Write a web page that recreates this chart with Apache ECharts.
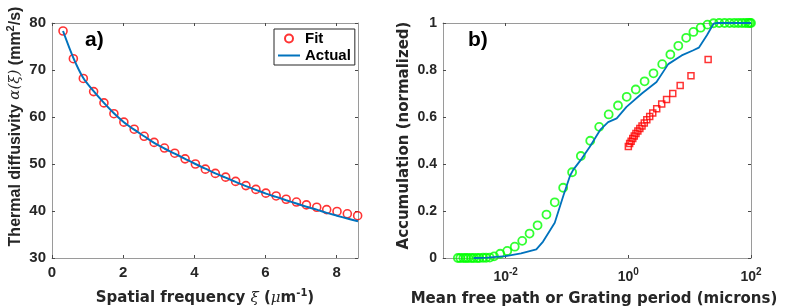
<!DOCTYPE html>
<html><head><meta charset="utf-8">
<script src="https://cdn.jsdelivr.net/npm/echarts@6/dist/echarts.min.js"></script>
<style>html,body{margin:0;padding:0;background:#fff}#c{width:789px;height:308px}</style>
</head><body><div id="c"></div>
<script>
// ---- Panel a) data ----
const fitX = [0.31,0.60,0.88,1.17,1.46,1.74,2.02,2.31,2.59,2.87,3.16,3.45,3.74,4.03,4.31,4.59,4.88,5.16,5.45,5.73,6.01,6.30,6.58,6.87,7.15,7.44,7.72,8.01,8.30,8.59];
const fitY = [78.3,72.4,68.2,65.4,63.0,60.7,58.9,57.4,55.9,54.6,53.4,52.3,51.1,50.0,48.9,48.0,47.2,46.3,45.4,44.6,43.8,43.2,42.5,41.9,41.3,40.8,40.3,39.9,39.4,39.0];
const actualX = [0.31,0.60,0.88,1.17,1.46,1.74,2.02,2.31,2.59,2.87,3.16,3.45,3.74,4.03,4.31,4.59,4.88,5.16,5.45,5.73,6.01,6.30,6.58,6.87,7.15,7.44,7.72,8.01,8.30,8.60];
const actualY = [78.3,72.6,68.3,65.5,63.0,60.8,58.9,57.3,55.9,54.5,53.3,52.2,51.1,50.0,49.0,48.0,47.1,46.2,45.3,44.5,43.7,43.0,42.3,41.6,40.9,40.3,39.6,39.0,38.4,37.8];
const aXTicks = [0,2,4,6,8];

// ---- Panel b) data ----
const greenX = [0.00166,0.00182,0.00204,0.00224,0.00245,0.00275,0.00302,0.00339,0.00372,0.00427,0.00479,0.0055,0.00646,0.00813,0.0106,0.01406,0.0186,0.0245,0.0331,0.0462,0.0631,0.0865,0.121,0.168,0.239,0.335,0.478,0.678,0.94,1.32,1.84,2.57,3.57,4.84,6.53,8.77,11.5,15.1,19.5,24.5,30.3,37.1,44.7,53.3,62.1,71.3,80.7,89.3,95.5,100];
const greenY = [0,0,0,0,0,0,0,0,0,0.001,0.001,0.002,0.007,0.018,0.03,0.048,0.073,0.104,0.139,0.185,0.237,0.299,0.365,0.434,0.499,0.558,0.611,0.649,0.686,0.717,0.752,0.786,0.825,0.866,0.903,0.937,0.962,0.98,0.993,0.999,1,1,1,1,1,1,1,1,1,1];
const redX = [20,10.5,7.0,5.3,4.2,3.5,2.9,2.5,2.23,2.0,1.82,1.67,1.54,1.43,1.33,1.25,1.18,1.11,1.05,1.0];
const redY = [0.845,0.776,0.734,0.70,0.675,0.655,0.635,0.617,0.602,0.588,0.575,0.562,0.551,0.54,0.53,0.519,0.508,0.497,0.487,0.475];
const blueX = [0.003,0.005,0.01,0.0178,0.0316,0.0407,0.0631,0.0871,0.112,0.126,0.174,0.234,0.347,0.468,0.646,0.933,1.66,2.88,4.47,7.41,11.5,14.1,19.1,24.5,28.2,100];
const blueY = [0,0.002,0.008,0.02,0.037,0.07,0.15,0.265,0.35,0.375,0.423,0.472,0.545,0.578,0.594,0.643,0.70,0.749,0.825,0.862,0.884,0.895,0.948,0.997,1.0,1.0];
const bXTicks = [0.01,1,100];

const pairs = (xs, ys) => xs.map((v, i) => [v, ys[i]]);

const txt = '#262626', frame = '#9a9a9a', tickC = '#4a4a4a';
const tickFont = {fontFamily:'Liberation Sans', fontWeight:'bold', color:txt};
const nameFont = {fontFamily:'DejaVu Sans', fontWeight:'bold', fontSize:15, color:txt, lineHeight:20};
const ital = {fontFamily:'DejaVu Serif', fontStyle:'italic', fontWeight:'normal', fontSize:15, color:txt, lineHeight:20};
const sup = {fontFamily:'DejaVu Sans', fontWeight:'bold', fontSize:10, color:txt, lineHeight:10, verticalAlign:'top'};
const yNameFont = {fontFamily:'Liberation Sans', fontWeight:'bold', fontSize:16, color:txt, lineHeight:20};
const yItal = {fontFamily:'DejaVu Serif', fontStyle:'italic', fontWeight:'normal', fontSize:15, color:txt, lineHeight:20};
const ySup = {fontFamily:'Liberation Sans', fontWeight:'bold', fontSize:11, color:txt, lineHeight:10, verticalAlign:'top'};

function baseAxis(extra) {
  return Object.assign({
    axisLine:{show:true, onZero:false, lineStyle:{color:frame, width:1}},
    axisTick:{show:true, inside:true, length:3, lineStyle:{color:tickC}},
    splitLine:{show:false},
    axisLabel:{show:true}
  }, extra);
}

const chart = echarts.init(document.getElementById('c'), null, {renderer:'canvas'});
chart.setOption({
  animation:false,
  backgroundColor:'#fff',
  grid:[
    {left:52, top:23, width:306, height:235, containLabel:false, outerBoundsMode:'none'},
    {left:443, top:23, width:308, height:235, containLabel:false, outerBoundsMode:'none'}
  ],
  legend:{
    show:true, orient:'vertical', left:274, top:29,
    data:[{name:'Fit'}, {name:'Actual', itemStyle:{opacity:0}}],
    borderColor:'#262626', borderWidth:1, backgroundColor:'#fff',
    padding:[2,4,2,3], itemGap:2, itemWidth:22, itemHeight:8,
    textStyle:{fontFamily:'Liberation Sans', fontWeight:'bold', fontSize:15, color:'#000'}
  },
  xAxis:[
    baseAxis({gridIndex:0, type:'value', min:0, max:8.6, position:'bottom',
      axisTick:{show:true, inside:true, length:3, lineStyle:{color:tickC}, customValues:aXTicks},
      axisLabel:Object.assign({fontSize:15, margin:7, customValues:aXTicks}, tickFont),
      name:'Spatial frequency {i|ξ} ({i|μ}m{s|-1})', nameLocation:'middle', nameGap:30,
      nameTextStyle:Object.assign({rich:{i:ital, s:sup}}, nameFont)}),
    baseAxis({gridIndex:0, type:'value', min:0, max:8.6, position:'top',
      axisTick:{show:true, inside:true, length:3, lineStyle:{color:tickC}, customValues:aXTicks},
      axisLabel:{show:false}}),
    baseAxis({gridIndex:1, type:'log', logBase:10, min:0.00095, max:100, position:'bottom',
      axisTick:{show:true, inside:true, length:3, lineStyle:{color:tickC}, customValues:bXTicks},
      axisLabel:{show:true, margin:9, customValues:bXTicks,
        formatter:function(v){ const e = Math.round(Math.log10(v)); return '{b|10}{s|' + e + '}'; },
        rich:{b:Object.assign({fontSize:14, lineHeight:20}, tickFont),
              s:Object.assign({fontSize:10, lineHeight:10, verticalAlign:'top'}, tickFont)}},
      name:'Mean free path or Grating period (microns)', nameLocation:'middle', nameGap:30,
      nameTextStyle:Object.assign({padding:[0,6,0,0]}, nameFont)}),
    baseAxis({gridIndex:1, type:'log', logBase:10, min:0.00095, max:100, position:'top',
      axisTick:{show:true, inside:true, length:3, lineStyle:{color:tickC}, customValues:bXTicks},
      axisLabel:{show:false}})
  ],
  yAxis:[
    baseAxis({gridIndex:0, type:'value', min:30, max:80, interval:10, position:'left',
      axisLabel:Object.assign({fontSize:15, margin:6}, tickFont),
      name:'Thermal diffusivity {i|α(ξ)} (mm{s|2}/s)', nameLocation:'middle', nameGap:25,
      nameTextStyle:Object.assign({padding:[0,0,0,28], rich:{i:yItal, s:ySup}}, yNameFont)}),
    baseAxis({gridIndex:0, type:'value', min:30, max:80, interval:10, position:'right',
      axisLabel:{show:false}}),
    baseAxis({gridIndex:1, type:'value', min:0, max:1, interval:0.2, position:'left',
      axisLabel:Object.assign({fontSize:14, margin:6}, tickFont),
      name:'Accumulation (normalized)', nameLocation:'middle', nameGap:29,
      nameTextStyle:Object.assign({padding:[0,0,0,10]}, nameFont)}),
    baseAxis({gridIndex:1, type:'value', min:0, max:1, interval:0.2, position:'right',
      axisLabel:{show:false}})
  ],
  graphic:[
    {type:'text', left:85, top:30, style:{text:'a)', fontFamily:'Liberation Sans', fontWeight:'bold', fontSize:21, fill:'#000'}},
    {type:'text', left:468, top:30, style:{text:'b)', fontFamily:'Liberation Sans', fontWeight:'bold', fontSize:21, fill:'#000'}}
  ],
  series:[
    {name:'Fit', type:'scatter', xAxisIndex:0, yAxisIndex:0, data:pairs(fitX, fitY), clip:false,
      symbol:'circle', symbolSize:8,
      itemStyle:{color:'rgba(255,255,255,0)', borderColor:'#ff0000', borderWidth:1.6}},
    {name:'Actual', type:'line', xAxisIndex:0, yAxisIndex:0, data:pairs(actualX, actualY),
      symbol:'none', smooth:0.3, lineStyle:{color:'#0072bd', width:2}, itemStyle:{color:'#0072bd'}},
    {name:'Model', type:'line', xAxisIndex:2, yAxisIndex:2, data:pairs(blueX, blueY),
      symbol:'none', lineStyle:{color:'#0072bd', width:1.8}, itemStyle:{color:'#0072bd'}},
    {name:'Green', type:'scatter', xAxisIndex:2, yAxisIndex:2, data:pairs(greenX, greenY), clip:false,
      symbol:'circle', symbolSize:8,
      itemStyle:{color:'rgba(255,255,255,0)', borderColor:'#00ff00', borderWidth:1.8}},
    {name:'Red', type:'scatter', xAxisIndex:2, yAxisIndex:2, data:pairs(redX, redY), clip:false,
      symbol:'rect', symbolSize:6,
      itemStyle:{color:'rgba(255,255,255,0)', borderColor:'#ff0000', borderWidth:1.5}}
  ]
});
</script>
</body></html>
